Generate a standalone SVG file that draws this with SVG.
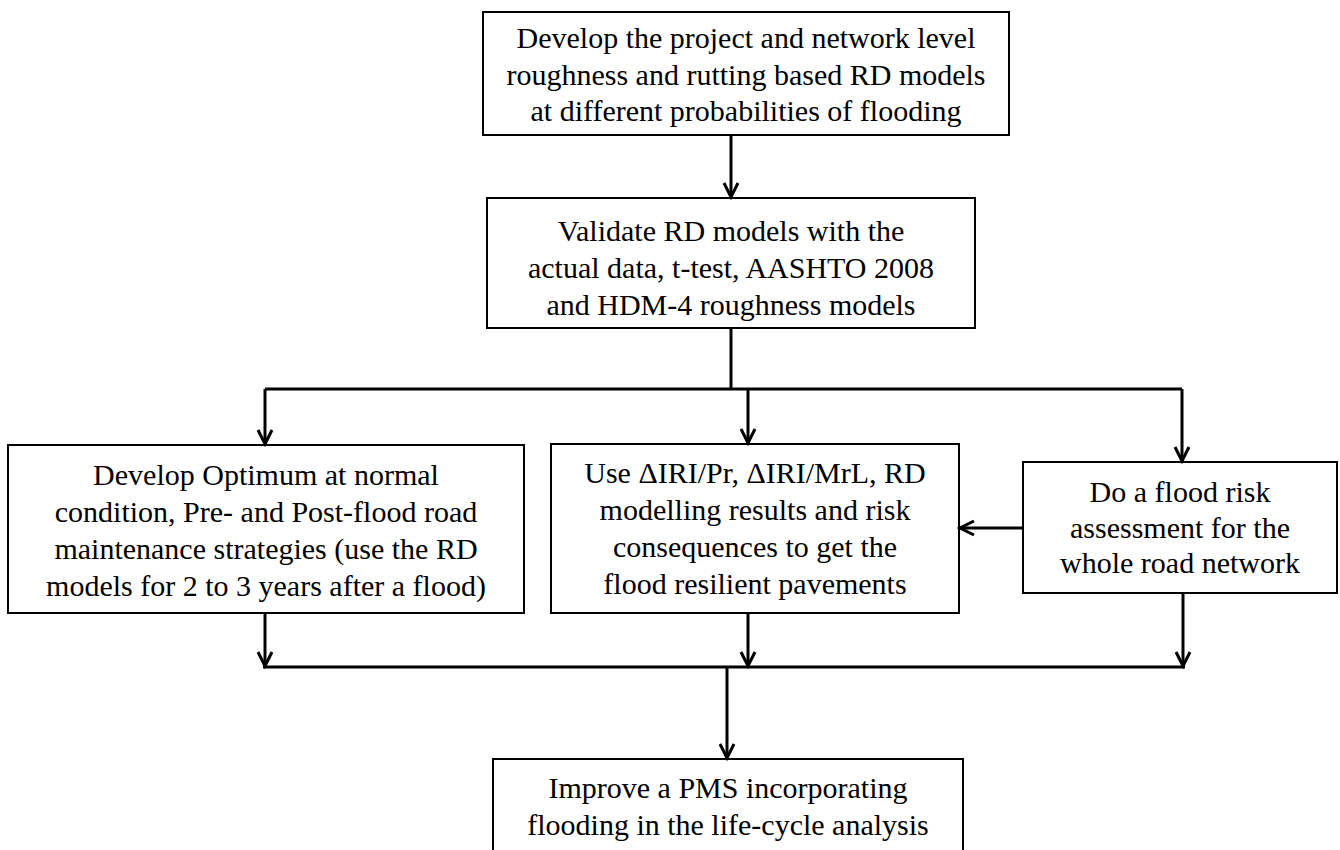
<svg xmlns="http://www.w3.org/2000/svg" width="1340" height="850" viewBox="0 0 1340 850">
<style>
.box{fill:#fff;stroke:#000;stroke-width:2}
.t{font-family:"Liberation Serif","Times New Roman",serif;font-size:30px;fill:#000;text-anchor:middle}
.c{fill:none;stroke:#000;stroke-width:3}
</style>
<defs>
<marker id="ah" viewBox="0 0 20 20" refX="17" refY="10" markerWidth="20" markerHeight="20" markerUnits="userSpaceOnUse" orient="auto">
<path d="M3,3 L17,10 L3,17" fill="none" stroke="#000" stroke-width="3"/>
</marker>
</defs>
<rect width="1340" height="850" fill="#fff"/>
<g id="n1">
<rect class="box" x="483" y="12" width="526" height="123"/>
<text class="t" x="746" y="48">Develop the project and network level</text>
<text class="t" x="746" y="85">roughness and rutting based RD models</text>
<text class="t" x="746" y="121">at different probabilities of flooding</text>
</g>
<g id="n2">
<rect class="box" x="487" y="198" width="488" height="130"/>
<text class="t" x="731" y="241">Validate RD models with the</text>
<text class="t" x="731" y="278">actual data, t-test, AASHTO 2008</text>
<text class="t" x="731" y="315">and HDM-4 roughness models</text>
</g>
<g id="n3">
<rect class="box" x="8" y="445" width="516" height="168"/>
<text class="t" x="266" y="485">Develop Optimum at normal</text>
<text class="t" x="266" y="522">condition, Pre- and Post-flood road</text>
<text class="t" x="266" y="559">maintenance strategies (use the RD</text>
<text class="t" x="266" y="596">models for 2 to 3 years after a flood)</text>
</g>
<g id="n4">
<rect class="box" x="551" y="444" width="408" height="169"/>
<text class="t" x="755" y="483">Use ΔIRI/Pr, ΔIRI/MrL, RD</text>
<text class="t" x="755" y="520">modelling results and risk</text>
<text class="t" x="755" y="557">consequences to get the</text>
<text class="t" x="755" y="594">flood resilient pavements</text>
</g>
<g id="n5">
<rect class="box" x="1023" y="462" width="314" height="131"/>
<text class="t" x="1180" y="502">Do a flood risk</text>
<text class="t" x="1180" y="538">assessment for the</text>
<text class="t" x="1180" y="573">whole road network</text>
</g>
<g id="n6">
<rect class="box" x="493" y="759" width="470" height="100"/>
<text class="t" x="728" y="798">Improve a PMS incorporating</text>
<text class="t" x="728" y="835">flooding in the life-cycle analysis</text>
</g>
<g id="connectors">
<path class="c" d="M731,135 V197" marker-end="url(#ah)"/>
<path class="c" d="M731,328 V389"/>
<path class="c" d="M265,389 H1182"/>
<path class="c" d="M265,389 V444" marker-end="url(#ah)"/>
<path class="c" d="M748,389 V443" marker-end="url(#ah)"/>
<path class="c" d="M1182,389 V461" marker-end="url(#ah)"/>
<path class="c" d="M1023,528 H960" marker-end="url(#ah)"/>
<path class="c" d="M265,613 V666" marker-end="url(#ah)"/>
<path class="c" d="M748,613 V666" marker-end="url(#ah)"/>
<path class="c" d="M1183,593 V666" marker-end="url(#ah)"/>
<path class="c" d="M263,667 H1185"/>
<path class="c" d="M727,667 V758" marker-end="url(#ah)"/>
</g>
</svg>
